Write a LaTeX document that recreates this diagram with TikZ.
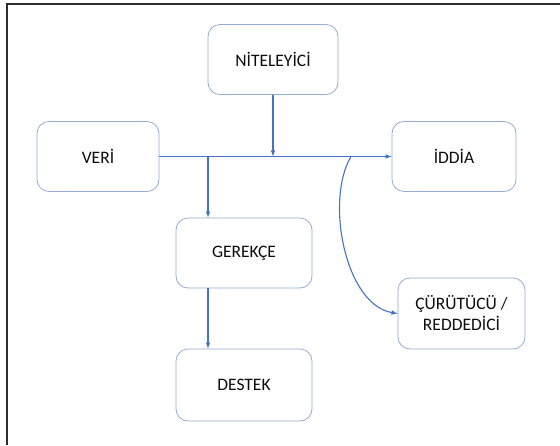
\documentclass[tikz,border=0pt]{standalone}
\usepackage{fontspec}
\setmainfont{Carlito}
\usetikzlibrary{calc}
\definecolor{lineblue}{RGB}{68,114,196}
\definecolor{boxline}{RGB}{150,172,208}
\definecolor{framegray}{RGB}{45,45,45}
\tikzset{
	kutu/.style={draw=boxline, line width=0.8pt, rounded corners=12pt, fill=white,
		minimum width=#1, minimum height=70pt, align=center, text=black!95,
		font=\fontsize{17.5}{21}\selectfont},
	kutu/.default=128pt,
	ok/.style={draw=lineblue, line width=1.1pt, -latex}
}

\begin{document}
\begin{tikzpicture}[x=1pt, y=-1pt]
		%%%%% START %%%%%
		\useasboundingbox (0, 0) rectangle (560, 445);
		
		\draw[line width=1.6pt, color=framegray] (560, 4) -- (7, 4) -- (7, 445);
		
		\node[kutu=130pt] (niteleyici) at (273, 59.5) {N\.ITELEY\.IC\.I};
		\node[kutu=122pt] (veri) at (98, 156.5) {VER\.I};
		\node[kutu=124pt] (iddia) at (454, 156.5) {\.IDD\.IA};
		\node[kutu=136pt] (gerekce) at (244, 253) {GEREKÇE};
		\node[kutu=136pt, minimum height=72pt] (destek) at (244, 385) {DESTEK};
		\node[kutu=127pt, minimum height=71pt] (curutucu) at (461.5, 313.5) {ÇÜRÜTÜCÜ /\\REDDED\.IC\.I};
		
		\coordinate (dal1) at (208, 156.5);
		\coordinate (dal2) at (351, 156.5);
		
		\draw[ok] (veri.east) -- (iddia.west);
		\draw[ok] (niteleyici.south) -- (niteleyici.south |- veri.east);
		\draw[ok] (dal1) -- (dal1 |- gerekce.north);
		\draw[ok] (gerekce.south -| dal1) -- (destek.north -| dal1);
		\draw[ok] (dal2) .. controls (325, 200) and (345, 305) .. (curutucu.west);
		
		%%%%% END %%%%%
	\end{tikzpicture}
\end{document}
